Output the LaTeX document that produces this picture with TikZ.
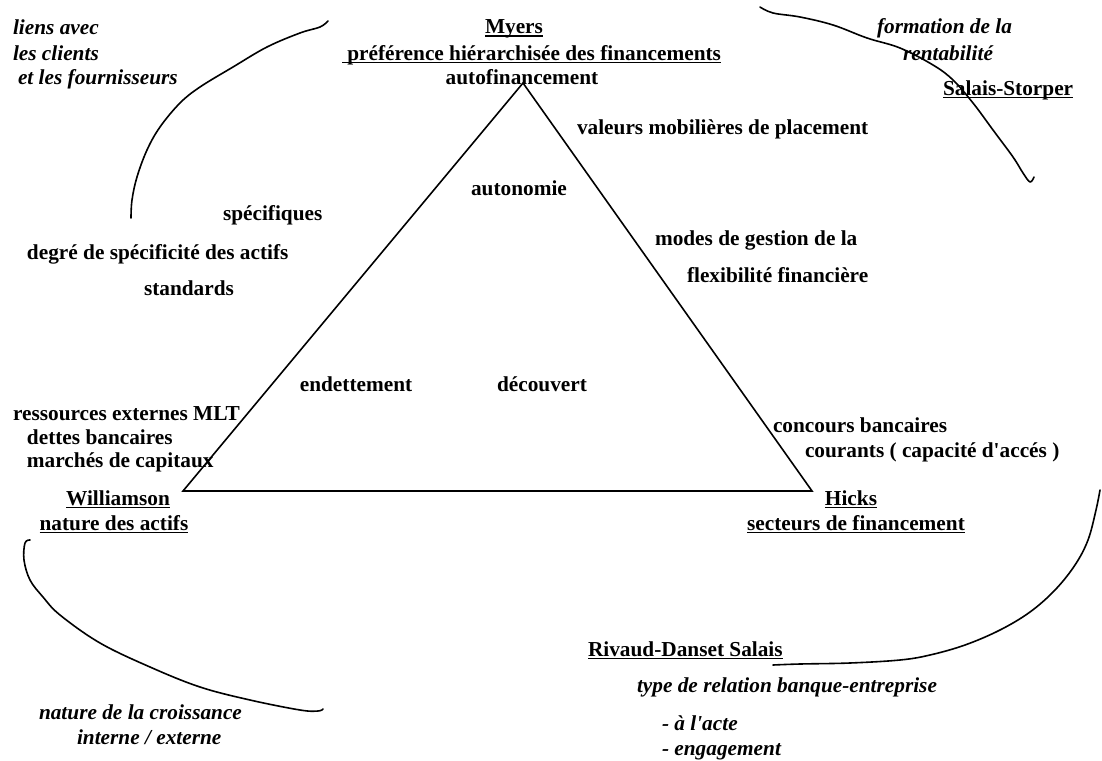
\documentclass[tikz,border=0pt]{standalone}
\usepackage{fontspec}
\setmainfont{Liberation Serif}
\newsavebox\myulbox
\newcommand\myul[1]{\sbox\myulbox{#1}\rlap{\rule[-3.4pt]{\wd\myulbox}{1.9pt}}\usebox\myulbox}
\tikzset{
  txt/.style={inner sep=0pt, outer sep=0pt, font=\fontsize{21.3}{25}\selectfont\bfseries},
  itx/.style={inner sep=0pt, outer sep=0pt, font=\fontsize{21.3}{25}\selectfont\bfseries\itshape},
  lft/.style={anchor=base west},
  ctr/.style={anchor=base},
  tri/.style={line width=1.6pt, line join=miter},
  curve/.style={line width=1.6pt, line cap=round, line join=round}
}
\begin{document}
\begin{tikzpicture}[x=1pt,y=-1pt]
\fill[white] (0,0) rectangle (1102,760);
\useasboundingbox (0,0) rectangle (1102,760);
% triangle
\coordinate (A) at (523,83);
\coordinate (B) at (183,491);
\coordinate (C) at (812,491);
\draw[tri] (A) -- (B) -- (C) -- cycle;
% top texts
\node[txt,ctr] (myers) at (514,34) {\myul{Myers}};
\node[txt,lft] (pref) at (342,60) {\myul{\ préférence hiérarchisée des financements}};
\node[txt,ctr] (autof) at (522,84) {autofinancement};
\node[itx,lft] (liens1) at (13,35) {liens avec};
\node[itx,lft] (liens2) at (13,60) {les clients};
\node[itx,lft] (liens3) at (18,84) {et les fournisseurs};
\node[itx,lft] (form1) at (877,34) {formation de la};
\node[itx,lft] (form2) at (903,60) {rentabilité};
\node[txt,lft] (ss) at (943,95) {\myul{Salais-Storper}};
\node[txt,lft] (vmp) at (577,134) {valeurs mobilières de placement};
\node[txt,ctr] (auto) at (519,195) {autonomie};
\node[txt,lft] (spec) at (223,220) {spécifiques};
\node[txt,lft] (degre) at (27,259) {degré de spécificité des actifs};
\node[txt,lft] (std) at (144,295) {standards};
\node[txt,lft] (modes) at (655,245) {modes de gestion de la};
\node[txt,lft] (flex) at (687,282) {flexibilité financière};
\node[txt,ctr] (endet) at (356,391) {endettement};
\node[txt,ctr] (decouv) at (542,391) {découvert};
\node[txt,lft] (res1) at (13,420) {ressources externes MLT};
\node[txt,lft] (res2) at (27,444) {dettes bancaires};
\node[txt,lft] (res3) at (27,467) {marchés de capitaux};
\node[txt,ctr] (will) at (118,505) {\myul{Williamson}};
\node[txt,ctr] (natact) at (114,530) {\myul{nature des actifs}};
\node[txt,lft] (conc1) at (773,432) {concours bancaires};
\node[txt,lft] (conc2) at (805,457) {courants ( capacité d\textquotesingle accés )};
\node[txt,ctr] (hicks) at (851,505) {\myul{Hicks}};
\node[txt,ctr] (sect) at (856,530) {\myul{secteurs de financement}};
\node[txt,lft] (rds) at (588,656) {\myul{Rivaud-Danset Salais}};
\node[itx,lft] (type) at (637,692) {type de relation banque-entreprise};
\node[itx,lft] (acte) at (662,730) {- à l\textquotesingle acte};
\node[itx,lft] (eng) at (662,755) {- engagement};
\node[itx,lft] (croiss1) at (39,719) {nature de la croissance};
\node[itx,lft] (croiss2) at (77,744) {interne / externe};
% arcs
\draw[curve] plot[smooth, tension=0.6] coordinates {(131,218) (132,200) (137,177) (147,150) (160,127) (180,103) (200,87) (233,67) (267,47) (300,33) (320,27) (328,21)};
\draw[curve] plot[smooth, tension=0.6] coordinates {(760,7) (773,13) (800,17) (833,25) (867,38) (900,48) (933,65) (953,80) (973,103) (993,130) (1013,157) (1023,173) (1030,182) (1034,177)};
\draw[curve] plot[smooth, tension=0.6] coordinates {(1100,490) (1096,510) (1088,540) (1075,565) (1055,590) (1030,612) (1000,630) (965,645) (930,655) (900,660) (850,663) (800,664) (773,665)};
\draw[curve] plot[smooth, tension=0.6] coordinates {(30,540) (25,543) (24,560) (30,580) (43,597) (60,615) (100,643) (150,667) (200,687) (250,700) (300,710) (318,711) (323,709)};
\end{tikzpicture}
\end{document}
